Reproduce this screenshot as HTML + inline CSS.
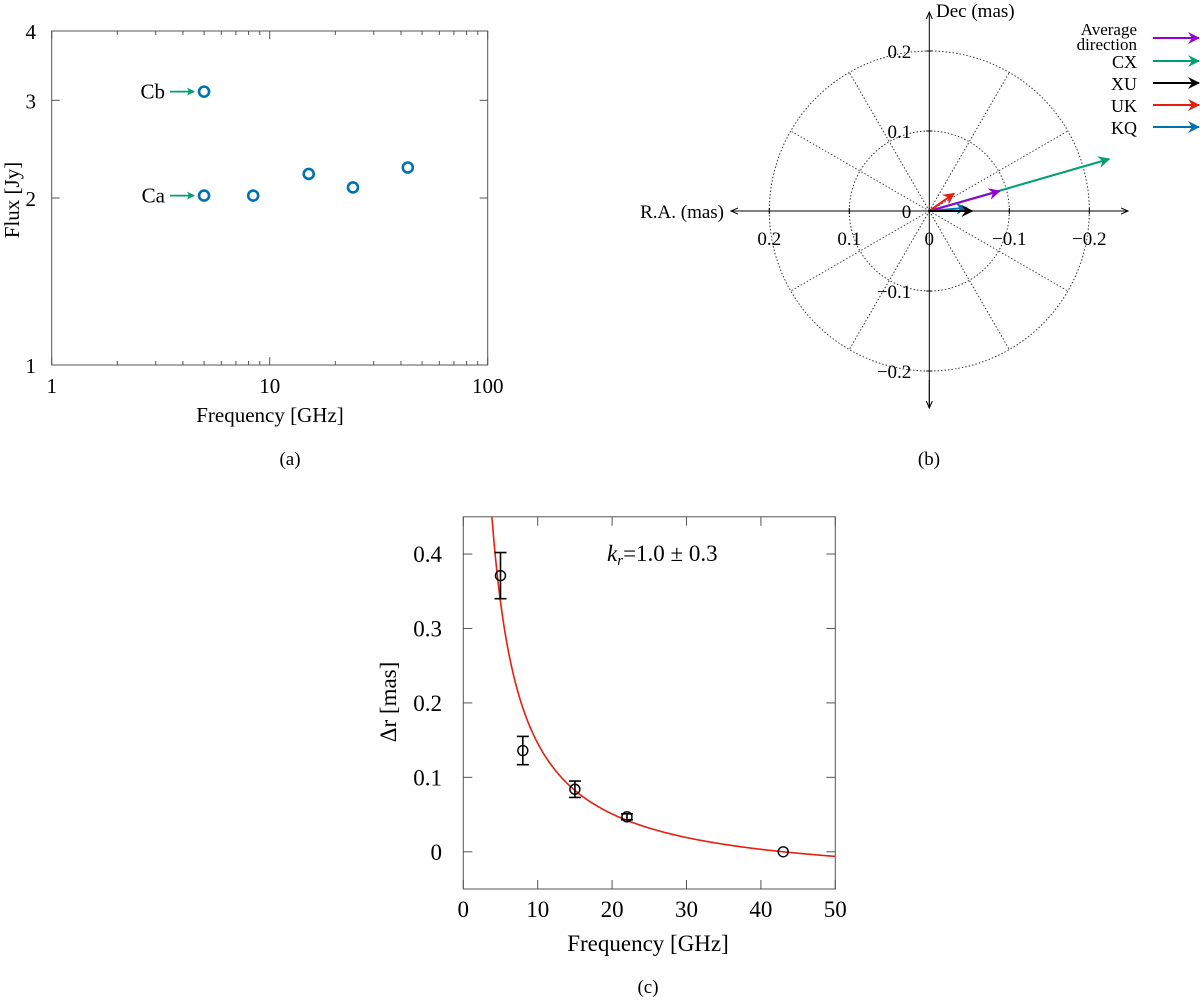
<!DOCTYPE html>
<html><head><meta charset="utf-8"><style>
body{margin:0;background:#fff}
svg{display:block;font-family:"Liberation Serif",serif}
</style></head><body>
<svg width="1200" height="1004" viewBox="0 0 1200 1004">
<defs>
<marker id="mg" markerWidth="8" markerHeight="8" refX="7" refY="4" orient="auto" markerUnits="userSpaceOnUse"><path d="M0,0 L8,4 L0,8 L2,4z" fill="#009e73"/></marker>
<marker id="mp" markerWidth="12" markerHeight="12" refX="11" refY="6" orient="auto" markerUnits="userSpaceOnUse"><path d="M0,0 L12,6 L0,12 L4,6z" fill="#9400d3"/></marker>
<marker id="mgr" markerWidth="12" markerHeight="12" refX="11" refY="6" orient="auto" markerUnits="userSpaceOnUse"><path d="M0,0 L12,6 L0,12 L4,6z" fill="#009e73"/></marker>
<marker id="mk" markerWidth="12" markerHeight="12" refX="11" refY="6" orient="auto" markerUnits="userSpaceOnUse"><path d="M0,0 L12,6 L0,12 L4,6z" fill="#000"/></marker>
<marker id="mr" markerWidth="12" markerHeight="12" refX="11" refY="6" orient="auto" markerUnits="userSpaceOnUse"><path d="M0,0 L12,6 L0,12 L4,6z" fill="#e51e10"/></marker>
<marker id="mb" markerWidth="12" markerHeight="12" refX="11" refY="6" orient="auto" markerUnits="userSpaceOnUse"><path d="M0,0 L12,6 L0,12 L4,6z" fill="#0072b2"/></marker>
<marker id="ax" markerWidth="8" markerHeight="8" refX="7" refY="4" orient="auto" markerUnits="userSpaceOnUse"><path d="M0,1 L7,4 L0,7" fill="none" stroke="#000"/></marker>
</defs>
<g id="pa"></g>
<g id="pb"></g>
<g id="pc"></g>
</svg>
<script>
// Panel A data
const aFreq=[5.0,5.0,8.4,15.1,24.1,43];
const aFlux=[3.11,2.02,2.02,2.21,2.09,2.27];
const aXTicks=[1,10,100];
const aYTicks=[1,2,3,4];
// Panel B data (mas)
const bNames=["Average direction","CX","XU","UK","KQ"];
const bRA=[-0.088,-0.225,-0.054,-0.031,-0.047];
const bDec=[0.025,0.065,0,0.022,0.004];
const bTicks=[0.2,0.1,0,-0.1,-0.2];
// Panel C data
const cFreq=[5,8,15,22,43];
const cDr=[0.371,0.136,0.084,0.047,0];
const cErr=[0.031,0.019,0.011,0.004,0];
const cXTicks=[0,10,20,30,40,50];
const cYTicks=[0,0.1,0.2,0.3,0.4];
const cFitA=[1.9];

const NS="http://www.w3.org/2000/svg";
function mk(parent,tag,attrs,text){const e=document.createElementNS(NS,tag);for(const k in attrs)e.setAttribute(k,attrs[k]);if(text!==undefined)e.textContent=text;parent.appendChild(e);return e;}

// ---- Panel A ----
(function(){
const g=document.getElementById('pa');
const L=51.7,R=487.7,T=31,B=365;
const xs=v=>L+Math.log10(v)/2*(R-L);
const ys=v=>B-Math.log10(v)/Math.log10(4)*(B-T);
let e=mk(g,'rect',{x:L,y:T,width:R-L,height:B-T,fill:'none',stroke:'#555','stroke-width':1});


for(let d=1;d<=100;d*=10)for(let m=1;m<10;m++){const v=d*m;if(v>100)break;const x=xs(v);const len=(m===1)?8:4;
mk(g,'line',{x1:x,y1:B,x2:x,y2:B-len,stroke:'#555'});mk(g,'line',{x1:x,y1:T,x2:x,y2:T+len,stroke:'#555'});}
aXTicks.forEach(v=>{const t=mk(g,'text',{x:xs(v),y:393,'font-size':21,'text-anchor':'middle'},String(v));

});
aYTicks.forEach(v=>{const y=ys(v);mk(g,'line',{x1:L,y1:y,x2:L+8,y2:y,stroke:'#555'});mk(g,'line',{x1:R,y1:y,x2:R-8,y2:y,stroke:'#555'});
const t=mk(g,'text',{x:36,y:y+8,'font-size':21,'text-anchor':'end'},String(v));

});
e=mk(g,'text',{x:270,y:422,'font-size':21,'text-anchor':'middle'},'Frequency [GHz]');


e=mk(g,'text',{x:0,y:0,'font-size':21,'text-anchor':'middle',transform:'translate(19,200) rotate(-90)'},'Flux [Jy]');


e=mk(g,'text',{x:290,y:465,'font-size':19,'text-anchor':'middle'},'(a)');


aFreq.forEach((f,i)=>{const c=mk(g,'circle',{cx:xs(f),cy:ys(aFlux[i]),r:5,fill:'none',stroke:'#0072b2','stroke-width':2.6});

});
[['Cb',aFlux[0]],['Ca',aFlux[1]]].forEach(([lab,v])=>{const y=ys(v);
const t=mk(g,'text',{x:165,y:y+7,'font-size':21,'text-anchor':'end'},lab);


mk(g,'line',{x1:170,y1:y,x2:194,y2:y,stroke:'#009e73','stroke-width':1.8,'marker-end':'url(#mg)'});});
})();

// ---- Panel B ----
(function(){
const g=document.getElementById('pb');
const cx=929.3,cy=211,s=800; // px per mas
const X=ra=>cx-ra*s, Y=d=>cy-d*s;
[0.1,0.2].forEach(r=>mk(g,'circle',{cx:cx,cy:cy,r:r*s,fill:'none',stroke:'#333','stroke-dasharray':'1.5,2','stroke-width':1}));
for(let a=0;a<360;a+=30){if(a%90===0)continue;const t=a*Math.PI/180;mk(g,'line',{x1:cx,y1:cy,x2:cx+0.2*s*Math.cos(t),y2:cy-0.2*s*Math.sin(t),stroke:'#333','stroke-dasharray':'1.5,2'});}
mk(g,'line',{x1:1128,y1:cy,x2:731,y2:cy,stroke:'#000','marker-end':'url(#ax)'});
mk(g,'line',{x1:1095,y1:cy,x2:1128,y2:cy,stroke:'#000','marker-end':'url(#ax)'});
mk(g,'line',{x1:cx,y1:408,x2:cx,y2:12,stroke:'#000','marker-end':'url(#ax)'});
mk(g,'line',{x1:cx,y1:380,x2:cx,y2:408,stroke:'#000','marker-end':'url(#ax)'});
bTicks.forEach(v=>{const lab=(v<0?'\u2212':'')+Math.abs(v);
mk(g,'line',{x1:X(v),y1:cy-3,x2:X(v),y2:cy+3,stroke:'#000'});
let t=mk(g,'text',{x:X(v),y:245,'font-size':19,'text-anchor':'middle'},lab);


if(v!==0){mk(g,'line',{x1:cx-3,y1:Y(v),x2:cx+3,y2:Y(v),stroke:'#000'});
t=mk(g,'text',{x:cx-18,y:Y(v)+7,'font-size':19,'text-anchor':'end'},lab);

}});
mk(g,'text',{x:cx-18,y:218,'font-size':19,'text-anchor':'end'},'0');
let e=mk(g,'text',{x:936,y:17,'font-size':19},'Dec (mas)');


e=mk(g,'text',{x:724,y:218,'font-size':19,'text-anchor':'end'},'R.A. (mas)');


e=mk(g,'text',{x:929,y:465,'font-size':19,'text-anchor':'middle'},'(b)');


const cols=['#9400d3','#009e73','#000','#e51e10','#0072b2'];
const mks=['mp','mgr','mk','mr','mb'];
const order=[1,0,3,4,2];
order.forEach(i=>{const a=mk(g,'line',{x1:cx,y1:cy,x2:X(bRA[i]),y2:Y(bDec[i]),stroke:cols[i],'stroke-width':2,'marker-end':'url(#'+mks[i]+')'});

});
const ly=[38,61,83,105,127];
bNames.forEach((n,i)=>{const y=ly[i];
if(i===0){mk(g,'text',{x:1137,y:35,'font-size':17,'text-anchor':'end'},'Average');mk(g,'text',{x:1137,y:50,'font-size':17,'text-anchor':'end'},'direction');}
else{const t=mk(g,'text',{x:1137,y:y+7,'font-size':18,'text-anchor':'end'},n);

}
const l=mk(g,'line',{x1:1153,y1:y,x2:1199,y2:y,stroke:cols[i],'stroke-width':2,'marker-end':'url(#'+mks[i]+')'});

});
})();

// ---- Panel C ----
(function(){
const g=document.getElementById('pc');
const L=463.3,R=835.3,T=516.8,B=889;
const xs=v=>L+v/50*(R-L);
const ys=v=>B-(v+0.05)/0.5*(B-T);
let e=mk(g,'rect',{x:L,y:T,width:R-L,height:B-T,fill:'none',stroke:'#555'});


cXTicks.forEach(v=>{const x=xs(v);mk(g,'line',{x1:x,y1:B,x2:x,y2:B-9,stroke:'#555'});mk(g,'line',{x1:x,y1:T,x2:x,y2:T+9,stroke:'#555'});
const t=mk(g,'text',{x:x,y:917,'font-size':23,'text-anchor':'middle'},String(v));

});
cYTicks.forEach(v=>{const y=ys(v);mk(g,'line',{x1:L,y1:y,x2:L+9,y2:y,stroke:'#555'});mk(g,'line',{x1:R,y1:y,x2:R-9,y2:y,stroke:'#555'});
const t=mk(g,'text',{x:442,y:y+8,'font-size':23,'text-anchor':'end'},v===0?'0':v.toFixed(1));

});
e=mk(g,'text',{x:648,y:951,'font-size':23,'text-anchor':'middle'},'Frequency [GHz]');


e=mk(g,'text',{x:0,y:0,'font-size':23,'text-anchor':'middle',transform:'translate(396,702) rotate(-90)'},'\u0394r [mas]');


e=mk(g,'text',{x:648,y:993,'font-size':19,'text-anchor':'middle'},'(c)');


e=mk(g,'text',{x:607,y:561,'font-size':23});


mk(e,'tspan',{'font-style':'italic'},'k');mk(e,'tspan',{'font-style':'italic','font-size':15,dy:4},'r');mk(e,'tspan',{dy:-4},'=1.0 \u00b1 0.3');
const A=cFitA[0],ref=cFreq[cFreq.length-1];
let d='';for(let i=0;i<=400;i++){const f=3.5+i*(50-3.5)/400;let v=A*(1/f-1/ref);if(v>0.45){continue;}d+=(d?'L':'M')+xs(f).toFixed(2)+','+ys(v).toFixed(2);}
const c=mk(g,'path',{d:d,fill:'none',stroke:'#e51e10','stroke-width':1.6});


cFreq.forEach((f,i)=>{const x=xs(f),y=ys(cDr[i]);
if(cErr[i]>0){const y1=ys(cDr[i]+cErr[i]),y2=ys(cDr[i]-cErr[i]);
mk(g,'line',{x1:x,y1:y1,x2:x,y2:y2,stroke:'#000','stroke-width':1.6});
mk(g,'line',{x1:x-6,y1:y1,x2:x+6,y2:y1,stroke:'#000','stroke-width':1.6});
mk(g,'line',{x1:x-6,y1:y2,x2:x+6,y2:y2,stroke:'#000','stroke-width':1.6});}
const p=mk(g,'circle',{cx:x,cy:y,r:5,fill:'none',stroke:'#000','stroke-width':1.4});

});
})();
</script>
</body></html>
